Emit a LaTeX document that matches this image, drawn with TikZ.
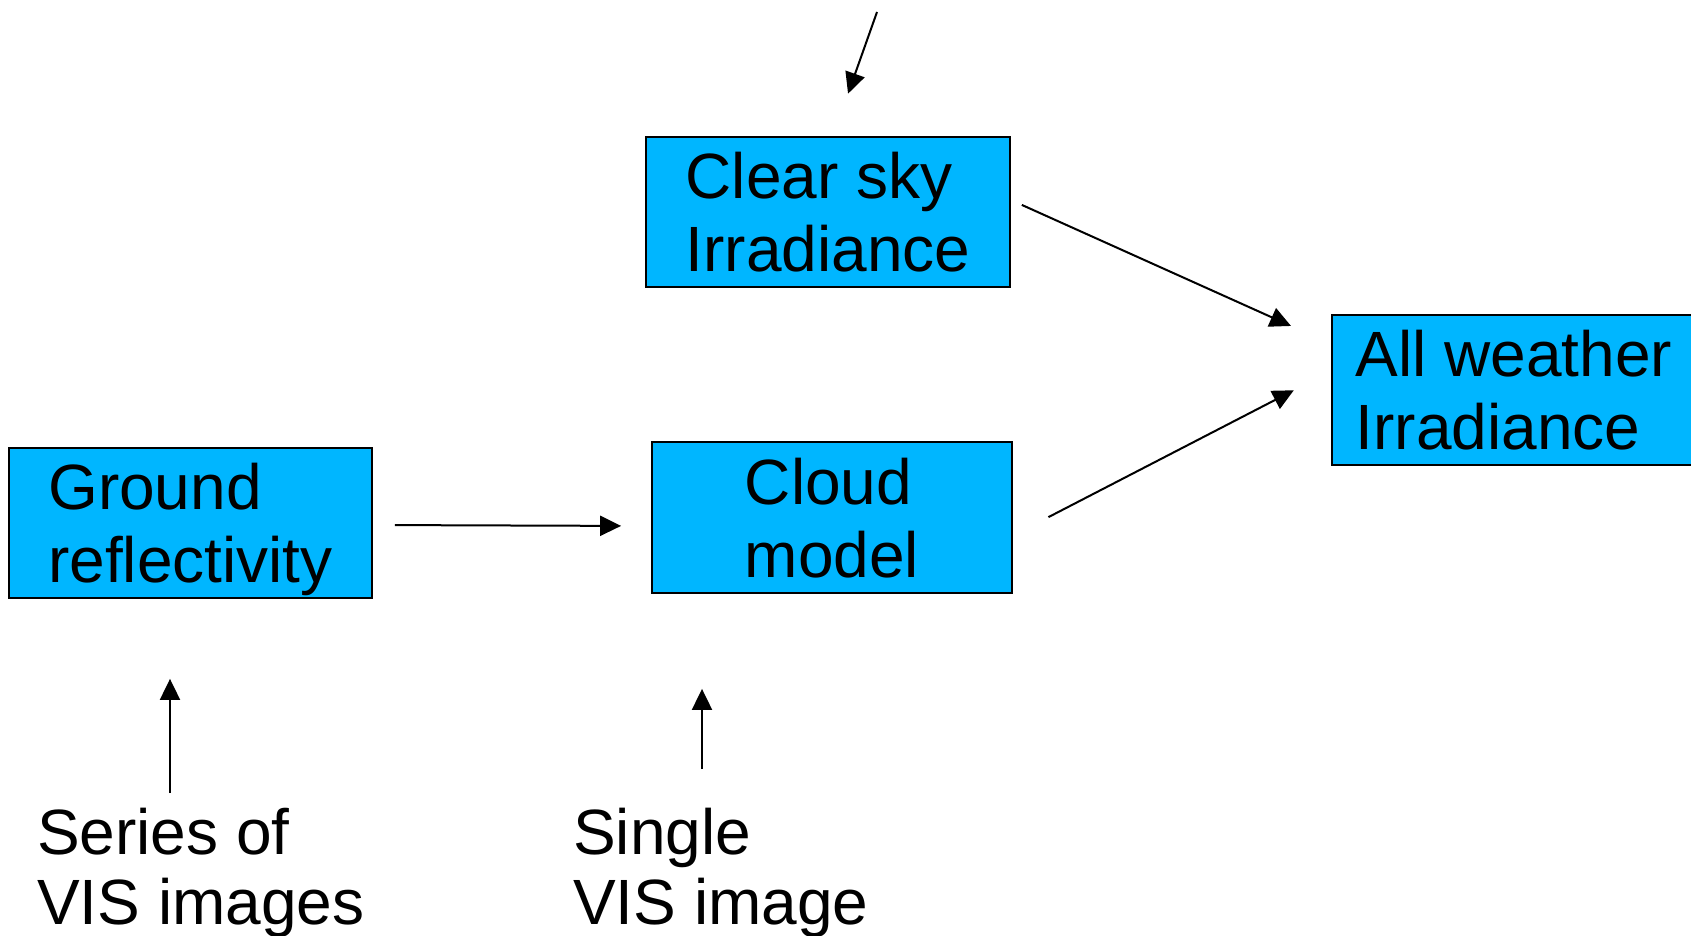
\documentclass[tikz,border=0pt]{standalone}
\usepackage{fontspec}
\setmainfont{Liberation Sans}
\usetikzlibrary{arrows.meta}
\definecolor{boxblue}{RGB}{0,182,255}
\begin{document}
\begin{tikzpicture}[x=1pt,y=-1pt,
  box/.style={draw=black, line width=1.8pt, fill=boxblue, rectangle, inner sep=0pt,
    align=left, text depth=0pt, font=\fontsize{64}{73}\selectfont},
  lbl/.style={inner sep=0pt, align=left, text depth=0pt, anchor=south west,
    font=\fontsize{64}{70}\selectfont},
  arr/.style={line width=2pt, -{Triangle[length=21pt,width=20pt]}}]
\useasboundingbox (0,0) rectangle (1691,936);
\fill[white] (0,0) rectangle (1691,936);
% boxes
\node[box, minimum width=364pt, minimum height=150pt] (cs) at (828,212) {Clear sky\\Irradiance};
\node[box, minimum width=364pt, minimum height=150pt] (aw) at (1514,390) {All weather\\Irradiance};
\node[box, minimum width=363pt, minimum height=150pt] (gr) at (190.5,523) {Ground\\reflectivity};
\node[box, minimum width=360pt, minimum height=151pt] (cm) at (832,517.5) {Cloud\\model};
% bottom labels
\node[lbl] (ser) at (37,925) {Series of\\VIS images};
\node[lbl] (sgl) at (573,925) {Single\\VIS image};
% free ends
\coordinate (top) at (877,12);
\coordinate (s1) at (170,793);
\coordinate (s2) at (702,769);
% connectors
\draw[arr, shorten >=45pt] (top) -- ([xshift=5pt]cs.north);
\draw[arr, shorten <=12pt, shorten >=44pt] ([yshift=12pt]cs.east) -- ([yshift=46pt]aw.west);
\draw[arr, shorten <=40pt, shorten >=42pt] ([yshift=-18pt]cm.east) -- ([yshift=19pt]aw.west);
\draw[arr, shorten <=22pt, shorten >=30pt] ([yshift=-2pt]gr.east) -- ([yshift=-8.5pt]cm.west);
\draw[arr, shorten >=80pt] (s1) -- (s1 |- gr.south);
\draw[arr, shorten >=95pt] (s2) -- (s2 |- cm.south);
\end{tikzpicture}
\end{document}
